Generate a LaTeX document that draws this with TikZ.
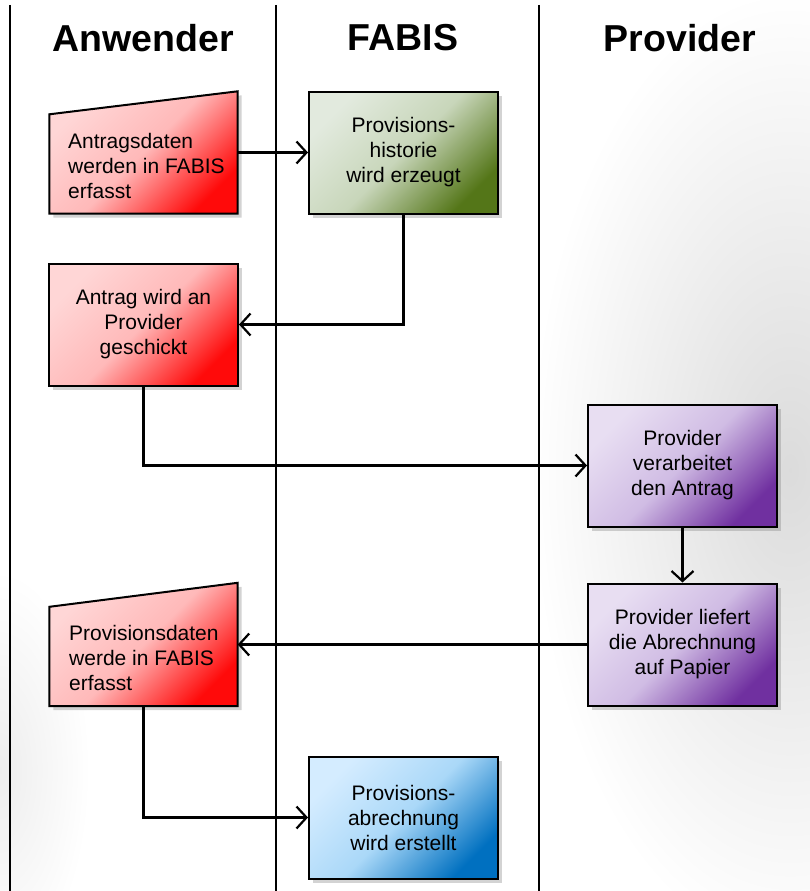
\documentclass[tikz,border=0pt]{standalone}
\usepackage{fontspec}
\setmainfont{Liberation Sans}
\usetikzlibrary{arrows.meta,shadows,calc}
\definecolor{redL}{RGB}{255,214,214}
\definecolor{redM}{RGB}{255,185,185}
\definecolor{redD}{RGB}{255,10,10}
\definecolor{grnL}{RGB}{226,234,222}
\definecolor{grnM}{RGB}{200,214,186}
\definecolor{grnD}{RGB}{84,118,24}
\definecolor{purL}{RGB}{232,222,242}
\definecolor{purM}{RGB}{208,188,228}
\definecolor{purD}{RGB}{112,48,160}
\definecolor{bluL}{RGB}{212,236,255}
\definecolor{bluM}{RGB}{170,216,248}
\definecolor{bluD}{RGB}{0,112,192}
\tikzset{
  lane/.style={line width=1.6pt},
  hdr/.style={font=\fontsize{37.5}{40}\selectfont\bfseries},
  txt/.style={font=\fontsize{21}{25}\selectfont, align=center},
  boxshadow/.style={drop shadow={shadow xshift=4pt,shadow yshift=-4pt,opacity=0.35}},
  redfill/.style={top color=redL, bottom color=redD, middle color=redM, shading angle=45},
  grnfill/.style={top color=grnL, bottom color=grnD, middle color=grnM, shading angle=45},
  purfill/.style={top color=purL, bottom color=purD, middle color=purM, shading angle=45},
  blufill/.style={top color=bluL, bottom color=bluD, middle color=bluM, shading angle=45},
  procbox/.style={draw=black, line width=2pt, minimum width=189pt, minimum height=122pt, inner sep=0pt, boxshadow, txt},
  holder/.style={minimum width=188pt, minimum height=122pt, inner sep=0pt},
  manual/.style={draw=black, line width=2pt, boxshadow},
  flowarrow/.style={draw=black, line width=2.2pt, line cap=butt, -{Straight Barb[length=10pt,width=22pt]}}
}
\begin{document}
\begin{tikzpicture}[x=1pt,y=1pt]
\useasboundingbox (0,-891) rectangle (810,0);
% faint background
\shade[inner color=gray!28, outer color=white] (790,-470) ellipse [x radius=260pt, y radius=480pt];
\shade[inner color=gray!14, outer color=white] (0,-770) ellipse [x radius=90pt, y radius=200pt];
% lanes
\draw[lane] (10,-5) -- (10,-891);
\draw[lane] (276,-5) -- (276,-891);
\draw[lane] (539,-5) -- (539,-891);
% headers
\node[hdr] (h1) at (143,-38) {Anwender};
\node[hdr] (h2) at (403,-38) {FABIS};
\node[hdr] (h3) at (680,-38) {Provider};
% box 1 (manual input)
\node[holder] (b1) at (143.5,-152.5) {};
\path[manual, redfill] (b1.south west) -- (b1.south east) -- (b1.north east) -- ([yshift=-23pt]b1.north west) -- cycle;
\node[txt, align=left, anchor=west, inner sep=0pt] (b1t) at (68,-166) {Antragsdaten\\werden in FABIS\\erfasst};
% box 2
\node[procbox, grnfill] (b2) at (403.5,-152.5) {Provisions-\\historie\\wird erzeugt};
% box 3
\node[procbox, redfill] (b3) at (143.5,-324.5) {Antrag wird an\\Provider\\geschickt};
% box 4
\node[procbox, purfill] (b4) at (682.5,-465.5) {Provider\\verarbeitet\\den Antrag};
% box 5
\node[procbox, purfill] (b5) at (682.5,-644.5) {Provider liefert\\die Abrechnung\\auf Papier};
% box 6 (manual input)
\node[holder, minimum height=123pt] (b6) at (143.5,-644.5) {};
\path[manual, redfill] (b6.south west) -- (b6.south east) -- (b6.north east) -- ([yshift=-24pt]b6.north west) -- cycle;
\node[txt, align=left, anchor=west, inner sep=0pt] (b6t) at (69,-658) {Provisionsdaten\\werde in FABIS\\erfasst};
% box 7
\node[procbox, blufill] (b7) at (403.5,-817.5) {Provisions-\\abrechnung\\wird erstellt};
% connectors
\draw[flowarrow] (b1.east) -- (b2.west);
\draw[flowarrow] (b2.south) |- (b3.east);
\draw[flowarrow] (b3.south) |- (b4.west);
\draw[flowarrow] (b4.south) -- (b5.north);
\draw[flowarrow] (b5.west) -- (b6.east);
\draw[flowarrow] (b6.south) |- (b7.west);
\end{tikzpicture}
\end{document}
